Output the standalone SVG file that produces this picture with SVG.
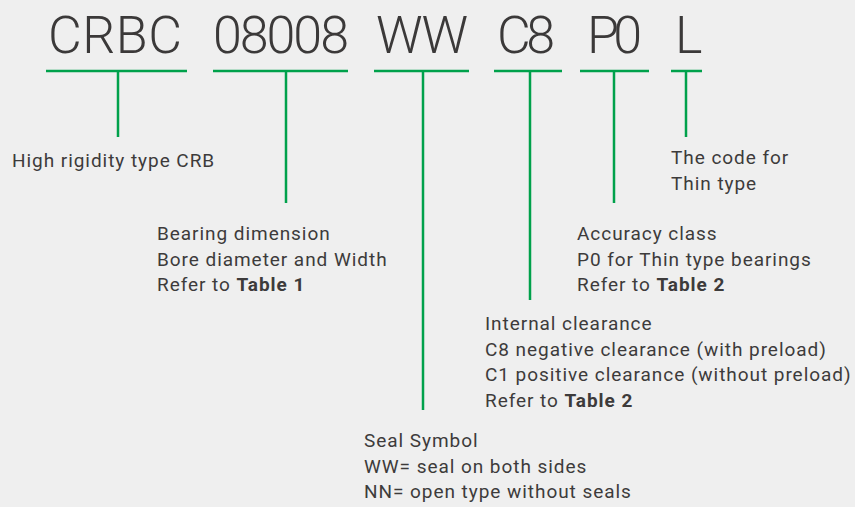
<svg xmlns="http://www.w3.org/2000/svg" width="855" height="507" viewBox="0 0 855 507">
<style>
.code{font-family:Roboto,"Liberation Sans",sans-serif;font-size:52px;fill:#3b3939;font-weight:300}
.t{font-family:Roboto,"Liberation Sans",sans-serif;font-size:19px;letter-spacing:0.95px;fill:#3d3b3b}
.b{font-weight:bold}
.g{stroke:#00a14b;stroke-width:2.5;fill:none}
</style>
<rect width="855" height="507" fill="#efefef"/>
<g id="code">
<text class="code" x="48" y="53" textLength="134" lengthAdjust="spacing">CRBC</text>
<text class="code" x="213" y="53" textLength="136" lengthAdjust="spacing">08008</text>
<text class="code" x="376" y="53" textLength="92" lengthAdjust="spacing">WW</text>
<text class="code" x="497" y="53" textLength="58" lengthAdjust="spacing">C8</text>
<text class="code" x="587" y="53" textLength="55" lengthAdjust="spacing">P0</text>
<text class="code" x="675" y="53">L</text>
</g>
<g id="connectors" class="g">
<path d="M46 71H187M118 71V137"/>
<path d="M213 71H348M286 71V203"/>
<path d="M374 71H469M423 71V410"/>
<path d="M494 71H562M530 71V300"/>
<path d="M580 71H649M614 71V203"/>
<path d="M671 71H702M686 71V137"/>
</g>
<g id="n1"><text class="t" x="12" y="167">High rigidity type CRB</text></g>
<g id="n2"><text class="t" x="157" y="240">Bearing dimension</text><text class="t" x="157" y="265.5">Bore diameter and Width</text><text class="t" x="157" y="291">Refer to <tspan class="b">Table 1</tspan></text></g>
<g id="n3"><text class="t" x="364" y="447">Seal Symbol</text><text class="t" x="364" y="472.5">WW= seal on both sides</text><text class="t" x="364" y="498">NN= open type without seals</text></g>
<g id="n4"><text class="t" x="485" y="330">Internal clearance</text><text class="t" x="485" y="355.5">C8 negative clearance (with preload)</text><text class="t" x="485" y="381">C1 positive clearance (without preload)</text><text class="t" x="485" y="406.5">Refer to <tspan class="b">Table 2</tspan></text></g>
<g id="n5"><text class="t" x="577" y="240">Accuracy class</text><text class="t" x="577" y="265.5">P0 for Thin type bearings</text><text class="t" x="577" y="291">Refer to <tspan class="b">Table 2</tspan></text></g>
<g id="n6"><text class="t" x="671" y="164">The code for</text><text class="t" x="671" y="189.5">Thin type</text></g>
</svg>
